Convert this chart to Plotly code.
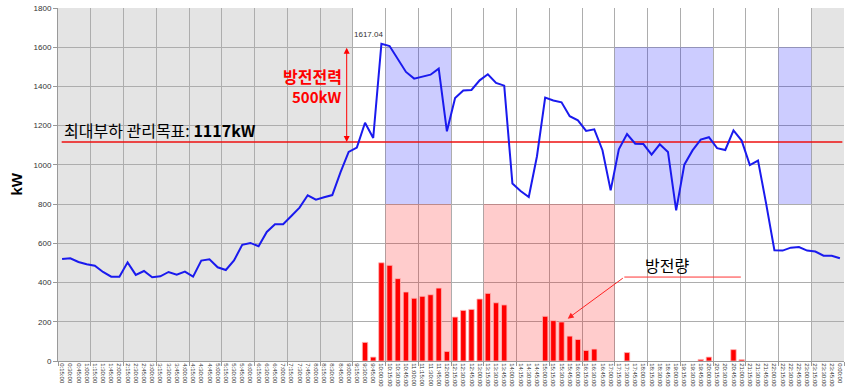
import plotly.graph_objects as go

# ---------------- data ----------------
time_labels = []
for k in range(1, 97):
    m = k * 15
    h = (m // 60) % 24
    time_labels.append(f"{h}:{m % 60:02d}:00")

load_kw = [520, 524, 505, 493, 486, 454, 430, 430, 503, 439,
           459, 427, 432, 454, 440, 456, 430, 512, 519, 478,
           464, 513, 592, 602, 585, 658, 697, 697, 739, 782,
           845, 823, 835, 846, 962, 1066, 1088, 1215, 1137, 1617.04,
           1606, 1542, 1474, 1440, 1450, 1460, 1491, 1171, 1341, 1379,
           1382, 1431, 1462, 1418, 1404, 905, 867, 836, 1044, 1343,
           1328, 1319, 1248, 1227, 1173, 1181, 1075, 870, 1079, 1157,
           1108, 1106, 1052, 1105, 1066, 768, 1001, 1074, 1129, 1141,
           1085, 1076, 1176, 1124, 999, 1022, 800, 565, 563, 578,
           581, 563, 558, 537, 537, 524]

discharge_kw = [None] * 96
discharge_points = {37: 95, 38: 20, 39: 501, 40: 488, 41: 420, 42: 352, 43: 320,
                    44: 330, 45: 338, 46: 372, 47: 49, 48: 224, 49: 258, 50: 263,
                    51: 316, 52: 345, 53: 297, 54: 286, 59: 228, 60: 206, 61: 199,
                    62: 127, 63: 110, 64: 54, 65: 61, 69: 43, 78: 8, 79: 20,
                    82: 58, 83: 7}
for k, v in discharge_points.items():
    discharge_kw[k] = v

target_kw = 1117
peak_kw = 1617.04
x_idx = list(range(96))

# ---------------- figure ----------------
fig = go.Figure()

fig.add_trace(go.Bar(
    x=x_idx, y=discharge_kw, width=0.66,
    marker=dict(color="#ff0000", line=dict(color="#ffb8b8", width=0.8)),
    showlegend=False, hoverinfo="skip"))

fig.add_trace(go.Scatter(
    x=x_idx, y=load_kw, mode="lines",
    line=dict(color="#1a1aee", width=2),
    showlegend=False))

shapes = []
# gray off-period backgrounds
for a, b in [(-0.5, 35.5), (91.5, 95.5)]:
    shapes.append(dict(type="rect", xref="x", yref="y", x0=a, x1=b, y0=0, y1=1800,
                       fillcolor="#e4e4e4", line=dict(width=0), layer="below"))
# blue peak periods
for a, b in [(39.5, 47.5), (67.5, 79.5), (87.5, 91.5)]:
    shapes.append(dict(type="rect", xref="x", yref="y", x0=a, x1=b, y0=800, y1=1600,
                       fillcolor="rgba(0,0,255,0.2)", line=dict(width=0), layer="between"))
# pink discharge periods
for a, b in [(39.5, 47.5), (51.5, 67.5)]:
    shapes.append(dict(type="rect", xref="x", yref="y", x0=a, x1=b, y0=0, y1=800,
                       fillcolor="rgba(255,0,0,0.2)", line=dict(width=0), layer="between"))
# target line
shapes.append(dict(type="line", xref="x", yref="y", x0=-0.05, x1=95.3,
                   y0=target_kw, y1=target_kw,
                   line=dict(color="#ee1111", width=1.5), layer="between"))
# leader line for 방전량
shapes.append(dict(type="line", xref="x", yref="y", x0=68.67, x1=82.9, y0=428, y1=428,
                   line=dict(color="#ff3333", width=1), layer="above"))

fig.update_layout(shapes=shapes)

ann = []
ann.append(dict(x=-0.07, y=1178, xref="x", yref="y", xanchor="left", yanchor="middle",
                text="최대부하 관리목표: <b>1117kW</b>", showarrow=False,
                font=dict(family="Noto Sans CJK KR", size=16, color="#000000")))
ann.append(dict(x=34.48, y=1452, xref="x", yref="y", xanchor="right", yanchor="middle",
                text="<b>방전전력</b>", showarrow=False,
                font=dict(family="Noto Sans CJK KR", size=16, color="#ff0000")))
ann.append(dict(x=34.48, y=1350, xref="x", yref="y", xanchor="right", yanchor="middle",
                text="<b>500kW</b>", showarrow=False,
                font=dict(family="Noto Sans CJK KR", size=15, color="#ff0000")))
# double-headed arrow
ann.append(dict(x=34.76, y=target_kw, ax=34.76, ay=1605, xref="x", yref="y",
                axref="x", ayref="y", text="", showarrow=True,
                arrowhead=2, arrowsize=1.2, arrowwidth=1, arrowside="end+start",
                arrowcolor="#ff0000"))
ann.append(dict(x=37.4, y=1667, xref="x", yref="y", xanchor="center", yanchor="middle",
                text=f"{peak_kw:.2f}", showarrow=False,
                font=dict(family="Liberation Sans", size=8, color="#333333")))
ann.append(dict(x=73.9, y=488, xref="x", yref="y", xanchor="center", yanchor="middle",
                text="방전량", showarrow=False,
                font=dict(family="Noto Sans CJK KR", size=16, color="#000000")))
ann.append(dict(x=61.75, y=216, ax=68.67, ay=428, xref="x", yref="y",
                axref="x", ayref="y", text="", showarrow=True,
                arrowhead=2, arrowsize=1.2, arrowwidth=1, arrowcolor="#ff2222"))
# y-axis title
ann.append(dict(x=-42 / 786, y=0.5, xref="paper", yref="paper",
                text="<b>kW</b>", showarrow=False, textangle=-90,
                xanchor="center", yanchor="middle",
                font=dict(family="Liberation Sans", size=15, color="#000000")))
fig.update_layout(annotations=ann)

fig.update_layout(
    width=851, height=391,
    margin=dict(l=58, r=7, t=8, b=30),
    paper_bgcolor="#ffffff", plot_bgcolor="#ffffff",
    bargap=0.3,
    xaxis=dict(
        range=[-0.5, 95.5], tickmode="array", tickvals=x_idx, ticktext=time_labels,
        tickangle=90, tickfont=dict(family="Liberation Sans", size=6, color="#333333"),
        showgrid=False, zeroline=False, showline=True, linecolor="#999999", linewidth=1,
        ticks="", automargin=False,
        minor=dict(tickmode="linear", tick0=3.5, dtick=4, showgrid=True,
                   gridcolor="#adadad", gridwidth=1.3, ticks="outside", ticklen=4,
                   tickcolor="#999999"),
        fixedrange=True),
    yaxis=dict(
        range=[0, 1800], dtick=200, tick0=0,
        showgrid=True, gridcolor="#adadad", gridwidth=1.3, zeroline=False,
        showline=True, linecolor="#999999", linewidth=1,
        ticks="outside", ticklen=4, tickcolor="#999999", automargin=False,
        tickfont=dict(family="Liberation Sans", size=8, color="#333333"),
        fixedrange=True),
)

fig.write_html("out.html", config={"displayModeBar": False},
               post_script="document.body.style.margin='0px';document.body.style.overflow='hidden';")
